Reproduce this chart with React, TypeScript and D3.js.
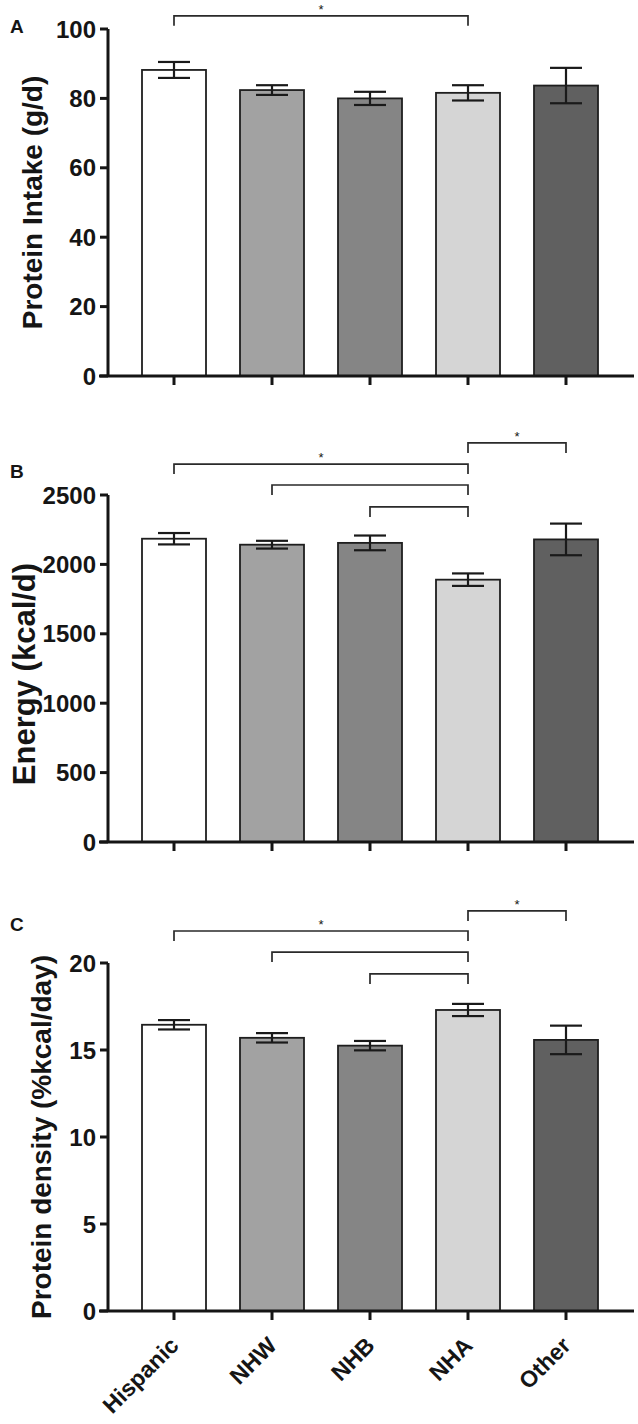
import React from 'react';
import * as d3 from 'd3';

const categories = ['Hispanic', 'NHW', 'NHB', 'NHA', 'Other'];
const barColors = ['#ffffff', '#a2a2a2', '#858585', '#d5d5d5', '#606060'];

const proteinMean = [88.2, 82.4, 80.0, 81.6, 83.7];
const proteinSE = [2.3, 1.4, 1.9, 2.2, 5.1];
const proteinTicks = [0, 20, 40, 60, 80, 100];

const energyMean = [2185, 2142, 2155, 1890, 2180];
const energySE = [41, 28, 53, 45, 114];
const energyTicks = [0, 500, 1000, 1500, 2000, 2500];

const densityMean = [16.45, 15.7, 15.25, 17.3, 15.58];
const densitySE = [0.27, 0.27, 0.27, 0.35, 0.82];
const densityTicks = [0, 5, 10, 15, 20];

const proteinBrackets = [{ a: 'Hispanic', b: 'NHA', level: 103.8, star: true }];
const energyBrackets = [
  { a: 'NHA', b: 'Other', level: 2875, star: true },
  { a: 'Hispanic', b: 'NHA', level: 2723, star: true },
  { a: 'NHW', b: 'NHA', level: 2572, star: false },
  { a: 'NHB', b: 'NHA', level: 2414, star: false },
];
const densityBrackets = [
  { a: 'NHA', b: 'Other', level: 22.99, star: true },
  { a: 'Hispanic', b: 'NHA', level: 21.84, star: true },
  { a: 'NHW', b: 'NHA', level: 20.63, star: false },
  { a: 'NHB', b: 'NHA', level: 19.37, star: false },
];

const W = 638;
const H = 1424;
const AXIS_X = 108;
const FONT = '"Liberation Sans", Arial, Helvetica, sans-serif';
const INK = '#151515';

const x = d3.scalePoint<string>().domain(categories).range([174, 566]);
const BAR_W = 64;
const CAP_W = 32;

type Bracket = { a: string; b: string; level: number; star: boolean };

function Panel(props: {
  letter: string;
  letterY: number;
  title: string;
  titleX: number;
  titleY?: number;
  titleSize?: number;
  top: number;
  bottom: number;
  max: number;
  ticks: number[];
  means: number[];
  ses: number[];
  brackets: Bracket[];
  showLabels?: boolean;
}) {
  const { letter, letterY, title, titleX, titleY, titleSize, top, bottom, max, ticks, means, ses, brackets, showLabels } = props;
  const y = d3.scaleLinear().domain([0, max]).range([bottom, top]);
  return (
    <g>
      <text x={10} y={letterY} fontFamily={FONT} fontWeight="bold" fontSize={19} fill={INK}>
        {letter}
      </text>
      <text
        transform={`translate(${titleX},${titleY ?? (top + bottom) / 2}) rotate(-90)`}
        textAnchor="middle"
        fontFamily={FONT}
        fontWeight="bold"
        fontSize={titleSize ?? 28}
        fill={INK}
      >
        {title}
      </text>
      {/* bars */}
      {categories.map((c, i) => (
        <rect
          key={c}
          x={(x(c) as number) - BAR_W / 2}
          y={y(means[i])}
          width={BAR_W}
          height={bottom - y(means[i])}
          fill={barColors[i]}
          stroke="#1e1e1e"
          strokeWidth={1.8}
        />
      ))}
      {/* error bars */}
      {categories.map((c, i) => {
        const cx = x(c) as number;
        const hi = y(means[i] + ses[i]);
        const lo = y(means[i] - ses[i]);
        return (
          <g key={'e' + c} stroke="#1a1a1a" strokeWidth={2.2}>
            <line x1={cx} x2={cx} y1={hi} y2={lo} />
            <line x1={cx - CAP_W / 2} x2={cx + CAP_W / 2} y1={hi} y2={hi} />
            <line x1={cx - CAP_W / 2} x2={cx + CAP_W / 2} y1={lo} y2={lo} />
          </g>
        );
      })}
      {/* y axis */}
      <line x1={AXIS_X} x2={AXIS_X} y1={top} y2={bottom} stroke={INK} strokeWidth={3} />
      {ticks.map((t) => (
        <g key={'t' + t}>
          <line x1={AXIS_X - 8} x2={AXIS_X} y1={y(t)} y2={y(t)} stroke={INK} strokeWidth={3} />
          <text
            x={96}
            y={y(t)}
            dy="0.36em"
            textAnchor="end"
            fontFamily={FONT}
            fontWeight="bold"
            fontSize={24}
            fill={INK}
          >
            {t}
          </text>
        </g>
      ))}
      {/* x axis */}
      <line x1={99} x2={634} y1={bottom} y2={bottom} stroke={INK} strokeWidth={3} />
      {categories.map((c) => (
        <line key={'xt' + c} x1={x(c)} x2={x(c)} y1={bottom} y2={bottom + 9} stroke={INK} strokeWidth={3} />
      ))}
      {showLabels &&
        categories.map((c) => (
          <text
            key={'xl' + c}
            transform={`translate(${(x(c) as number) + 6},${bottom + 36}) rotate(-45)`}
            textAnchor="end"
            fontFamily={FONT}
            fontWeight="bold"
            fontSize={23}
            fill={INK}
          >
            {c}
          </text>
        ))}
      {/* significance brackets */}
      {brackets.map((b, i) => {
        const x1 = x(b.a) as number;
        const x2 = x(b.b) as number;
        const by = y(b.level);
        return (
          <g key={'b' + i}>
            <path
              d={`M${x1},${by + 10}V${by}H${x2}V${by + 10}`}
              fill="none"
              stroke="#2a2a2a"
              strokeWidth={1.7}
            />
            {b.star && (
              <text
                x={(x1 + x2) / 2}
                y={by - 2}
                textAnchor="middle"
                fontFamily={FONT}
                fontSize={13}
                fill={INK}
              >
                *
              </text>
            )}
          </g>
        );
      })}
    </g>
  );
}

export default function App() {
  return (
    <svg
      width={W}
      height={H}
      viewBox={`0 0 ${W} ${H}`}
      style={{ position: 'absolute', left: 0, top: 0, background: '#fff' }}
    >
      <rect width={W} height={H} fill="#fff" />
      <Panel
        letter="A"
        letterY={33}
        title="Protein Intake (g/d)"
        titleX={42}
        top={29}
        bottom={376}
        max={100}
        ticks={proteinTicks}
        means={proteinMean}
        ses={proteinSE}
        brackets={proteinBrackets}
      />
      <Panel
        letter="B"
        letterY={478}
        title="Energy (kcal/d)"
        titleX={35}
        titleY={674}
        titleSize={31}
        top={495}
        bottom={842}
        max={2500}
        ticks={energyTicks}
        means={energyMean}
        ses={energySE}
        brackets={energyBrackets}
      />
      <Panel
        letter="C"
        letterY={931}
        title="Protein density (%kcal/day)"
        titleX={51}
        top={963}
        bottom={1311}
        max={20}
        ticks={densityTicks}
        means={densityMean}
        ses={densitySE}
        brackets={densityBrackets}
        showLabels
      />
    </svg>
  );
}
